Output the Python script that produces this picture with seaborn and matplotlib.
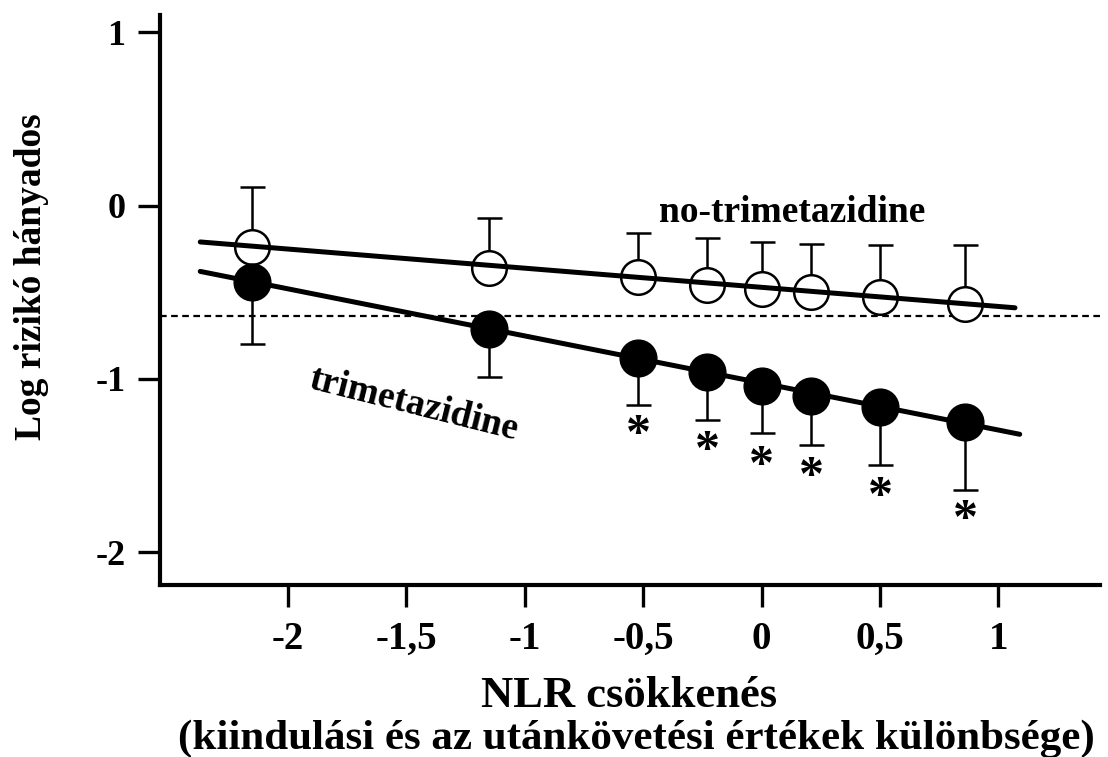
import numpy as np
import pandas as pd
import matplotlib
matplotlib.use("Agg")
import matplotlib.pyplot as plt
import seaborn as sns

# ---- data ----
nlr_x = [-2.15, -1.15, -0.52, -0.23, 0.0, 0.21, 0.50, 0.86]
no_tmz_y = [-0.24, -0.36, -0.41, -0.46, -0.48, -0.50, -0.53, -0.57]
no_tmz_upper = [0.105, -0.07, -0.16, -0.19, -0.21, -0.22, -0.23, -0.23]
tmz_y = [-0.44, -0.71, -0.88, -0.96, -1.04, -1.10, -1.16, -1.25]
tmz_lower = [-0.80, -0.99, -1.15, -1.24, -1.31, -1.38, -1.50, -1.64]
star_x = [-0.52, -0.23, 0.0, 0.21, 0.50, 0.86]
star_y = [-1.33, -1.42, -1.51, -1.57, -1.69, -1.82]
fit_x_no = [-2.37, 1.07]
fit_y_no = [-0.21, -0.59]
fit_x_tmz = [-2.37, 1.09]
fit_y_tmz = [-0.38, -1.32]
ref_y = -0.64
xticks = [-2, -1.5, -1, -0.5, 0, 0.5, 1]
xticklabels = ["-2", "-1,5", "-1", "-0,5", "0", "0,5", "1"]
yticks = [1, 0, -1, -2]
yticklabels = ["1", "0", "-1", "-2"]

sns.set_theme(style="white")
plt.rcParams['font.family'] = ['Liberation Serif', 'DejaVu Serif']
plt.rcParams['font.weight'] = 'bold'
plt.rcParams['text.color'] = 'black'
plt.rcParams['axes.labelcolor'] = 'black'

fig = plt.figure(figsize=(11.08, 7.57), dpi=100)
ax = fig.add_axes([0.1444, 0.2272, 0.8486, 0.753])

# reference dashed line
ax.axhline(ref_y, color='black', lw=1.6, ls=(0, (3, 2)), zorder=1)

# fitted line (trimetazidine)
sns.lineplot(x=fit_x_tmz, y=fit_y_tmz, ax=ax, color='black', lw=3.6, zorder=2)

# one-sided error bars
no_err = np.array(no_tmz_upper) - np.array(no_tmz_y)
tmz_err = np.array(tmz_y) - np.array(tmz_lower)
ax.errorbar(nlr_x, no_tmz_y, yerr=[np.zeros_like(no_err), no_err], fmt='none',
            ecolor='black', elinewidth=1.8, capsize=9, capthick=1.8, zorder=1.5)
ax.errorbar(nlr_x, tmz_y, yerr=[tmz_err, np.zeros_like(tmz_err)], fmt='none',
            ecolor='black', elinewidth=1.8, capsize=9, capthick=1.8, zorder=1.5)

# markers
df_no = pd.DataFrame({"x": nlr_x, "y": no_tmz_y})
df_t = pd.DataFrame({"x": nlr_x, "y": tmz_y})
sns.scatterplot(data=df_no, x="x", y="y", ax=ax, s=620, facecolor='white',
                edgecolor='black', linewidth=1.8, zorder=3)
sns.scatterplot(data=df_t, x="x", y="y", ax=ax, s=700, color='black',
                edgecolor='black', linewidth=1, zorder=3)
# fit line through the open circles (visible across them)
sns.lineplot(x=fit_x_no, y=fit_y_no, ax=ax, color='black', lw=3.6, zorder=4)

# significance stars
for sx, sy in zip(star_x, star_y):
    ax.text(sx, sy, "*", ha='center', va='center', fontsize=36,
            fontweight='bold', color='black')

# series labels
ax.text(0.13, -0.04, "no-trimetazidine", ha='center', va='center',
        fontsize=27, fontweight='bold', color='black')
ax.text(-1.47, -1.15, "trimetazidine", ha='center', va='center',
        fontsize=27, fontweight='bold', rotation=-14, color='black')

ax.set_xlim(-2.54, 1.43)
ax.set_ylim(-2.19, 1.1)
ax.set_xticks(xticks)
ax.set_xticklabels(xticklabels, fontsize=28, fontweight='bold')
ax.set_yticks(yticks)
ax.set_yticklabels(yticklabels, fontsize=26, fontweight='bold')
ax.tick_params(axis='both', direction='out', length=16, width=2.4, colors='black',
               bottom=True, left=True)
ax.tick_params(axis='x', pad=10)
ax.tick_params(axis='y', pad=9)
for s in ['top', 'right']:
    ax.spines[s].set_visible(False)
for s in ['left', 'bottom']:
    ax.spines[s].set_linewidth(3)
    ax.spines[s].set_color('black')
ax.set_xlabel("")
ax.set_ylabel("")

fig.text(0.028, 0.635, "Log rizikó hányados", ha='center', va='center',
         rotation=90, fontsize=27, fontweight='bold', color='black')
fig.text(0.568, 0.081, "NLR csökkenés", ha='center', va='center',
         fontsize=32, fontweight='bold', color='black')
fig.text(0.574, 0.024, "(kiindulási és az utánkövetési értékek különbsége)",
         ha='center', va='center', fontsize=31, fontweight='bold', color='black')

fig.savefig("out.png", dpi=100, facecolor='white')
